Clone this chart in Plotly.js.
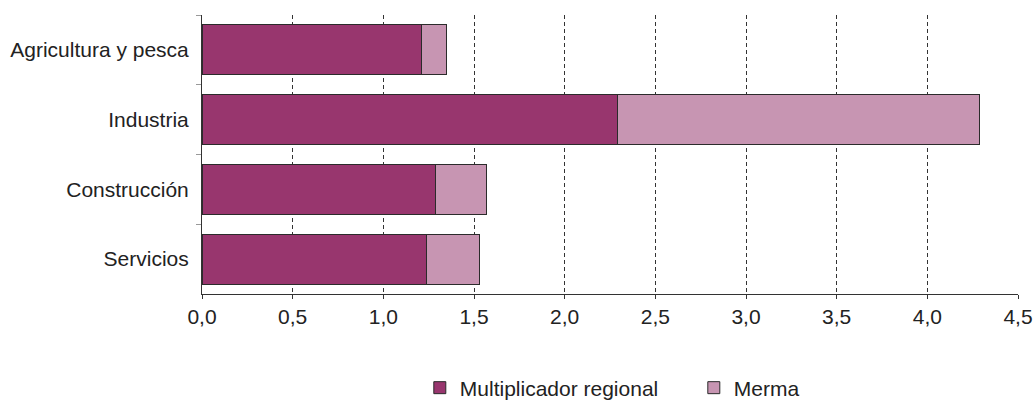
<!DOCTYPE html>
<html>
<head>
<meta charset="utf-8">
<script src="https://cdn.plot.ly/plotly-3.0.1.min.js"></script>
<style>html,body{margin:0;padding:0;background:#fff;}#chart{width:1034px;height:401px;}</style>
</head>
<body>
<div id="chart"></div>
<script>
const categories = ["Agricultura y pesca", "Industria", "Construcción", "Servicios"];
const multiplicadorRegional = [1.21, 2.29, 1.29, 1.24];
const merma = [0.14, 2.00, 0.28, 0.29];
const seriesNames = ["Multiplicador regional", "Merma"];
const xTicks = [0, 0.5, 1, 1.5, 2, 2.5, 3, 3.5, 4, 4.5];

const FONT = "Liberation Sans, Arial, sans-serif";

const traces = [
  {
    type: "bar", orientation: "h", name: seriesNames[0],
    y: categories, x: multiplicadorRegional,
    marker: {color: "#98366E", line: {color: "#2b2b2b", width: 1}},
    hoverinfo: "x+y"
  },
  {
    type: "bar", orientation: "h", name: seriesNames[1],
    y: categories, x: merma,
    marker: {color: "#C795B2", line: {color: "#2b2b2b", width: 1}},
    hoverinfo: "x+y"
  }
];

const layout = {
  width: 1034, height: 401,
  barmode: "stack",
  bargap: 0.28,
  separators: ",.",
  paper_bgcolor: "#fff", plot_bgcolor: "#fff",
  margin: {l: 202, r: 16, t: 15, b: 107, autoexpand: false},
  font: {family: FONT, size: 21, color: "#222"},
  showlegend: true,
  legend: {
    orientation: "h", xref: "container", yref: "container",
    x: 0.406, xanchor: "left", y: 0.0324, yanchor: "middle",
    font: {family: FONT, size: 21, color: "#222"},
    traceorder: "normal", entrywidth: 229, entrywidthmode: "pixels"
  },
  xaxis: {
    range: [0, 4.5], tickvals: xTicks, tickformat: ".1f",
    showgrid: true, gridcolor: "#333", griddash: "4px,3px", gridwidth: 1,
    showline: true, linecolor: "#333", linewidth: 1,
    ticks: "outside", ticklen: 4, tickcolor: "#333",
    zeroline: false, fixedrange: true, automargin: false,
    tickfont: {family: FONT, size: 21, color: "#222"}
  },
  yaxis: {
    autorange: "reversed", type: "category",
    showline: true, linecolor: "#333", linewidth: 1,
    ticks: "outside", tickson: "boundaries", ticklen: 5, tickcolor: "#999",
    ticklabelstandoff: 8,
    showgrid: false, zeroline: false, fixedrange: true, automargin: false,
    tickfont: {family: FONT, size: 21, color: "#222"}
  }
};

Plotly.newPlot("chart", traces, layout, {displayModeBar: false, staticPlot: true});
</script>
</body>
</html>
